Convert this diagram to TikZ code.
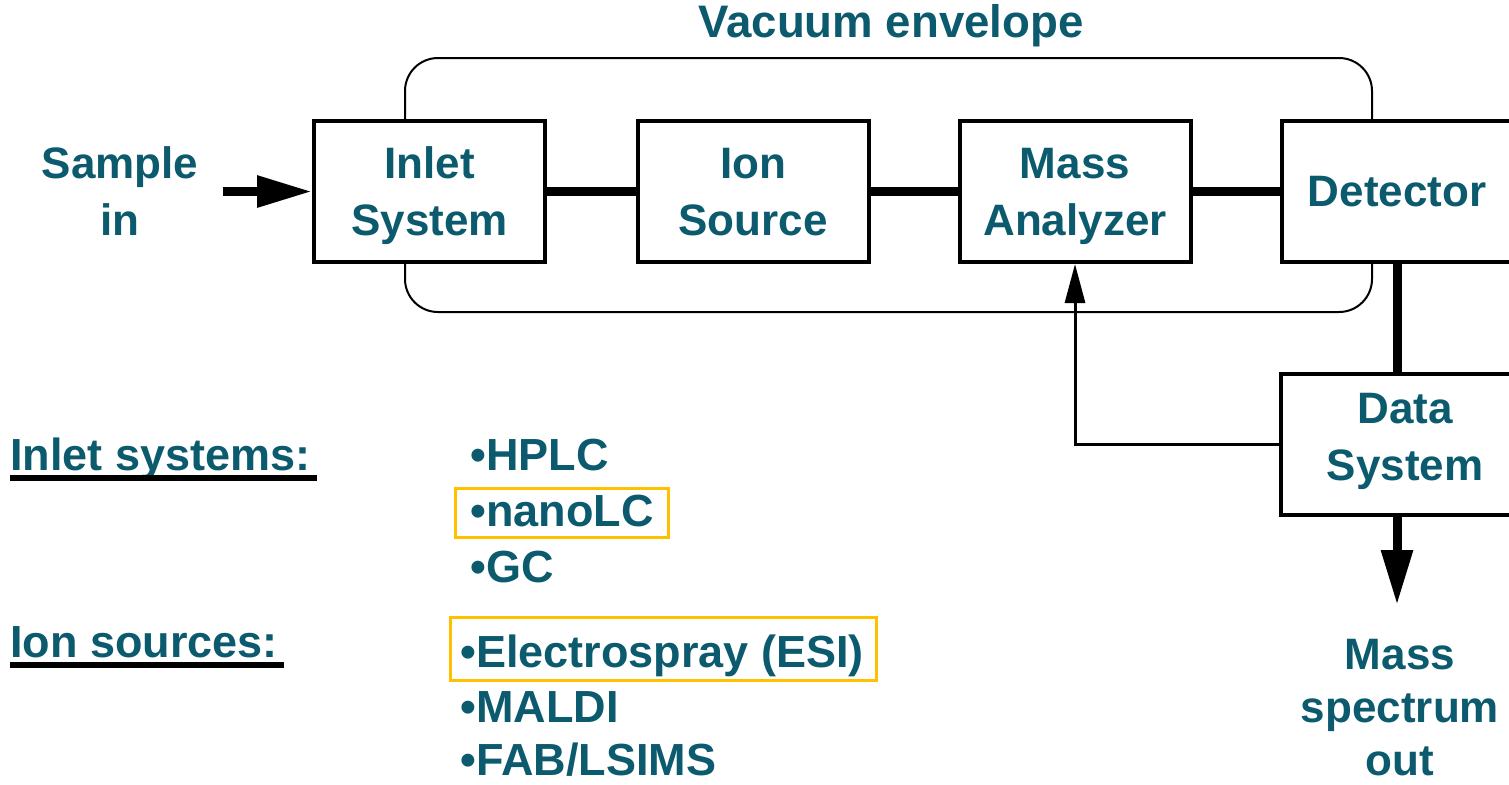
\documentclass[tikz,border=0pt]{standalone}
\usepackage{fontspec}
\setmainfont{Liberation Sans}
\usetikzlibrary{arrows.meta}
\definecolor{msTeal}{HTML}{0B5A6D}
\definecolor{msOrange}{HTML}{FFC000}

\begin{document}
\begin{tikzpicture}[x=0.5pt, y=-0.5pt,
    txt/.style={font=\fontsize{22}{28.5}\selectfont\bfseries, text=msTeal, align=center},
    stage/.style={txt, draw, line width=2pt, fill=white, minimum width=115.5pt, minimum height=70.5pt, inner sep=0pt, text depth=0pt},
    link/.style={line width=4.5pt},
    flow/.style={line width=4.5pt, -{Triangle[length=27.5pt, width=15pt]}},
    fb/.style={line width=1.5pt, -{Triangle[length=19.5pt, width=10pt]}},
    item/.style={txt, font=\fontsize{22.5}{28.5}\selectfont\bfseries, anchor=base west, inner sep=0pt},
    uline/.style={line width=3pt},
    hl/.style={draw=msOrange, line width=1.5pt}]
  \useasboundingbox (0,0) rectangle (1509,784);
  \clip (0,0) rectangle (1509,784);
  % vacuum envelope
  \draw[line width=1pt, rounded corners=16.5pt] (405,58) rectangle (1372,312);
  \node[txt, font=\fontsize{22.8}{28.5}\selectfont\bfseries] (vac) at (891,26) {Vacuum envelope};
  % stages
  \node[stage] (inlet) at (429.5,191.5) {Inlet\\System};
  \node[stage] (ion) at (753,191.5) {Ion\\Source};
  \node[stage] (ma) at (1075,191.5) {Mass\\Analyzer};
  \node[stage] (det) at (1397,191.5) {Detector};
  \node[stage, minimum width=124pt, text depth=8pt] (data) at (1405,444.5) {Data\\System};
  \node[txt, text depth=0pt] (sample) at (120,191.5) {Sample\\in};
  \node[txt, font=\fontsize{22}{26.5}\selectfont\bfseries] (spec) at (1400,708) {Mass\\spectrum\\out};
  \coordinate (outtip) at (1397,605);
  % connectors
  \draw[flow] ([xshift=9pt]sample.east) -- (inlet.west);
  \draw[link] (inlet) -- (ion);
  \draw[link] (ion) -- (ma);
  \draw[link] (ma) -- (det);
  \draw[link] (det.south) -- (det.south |- data.north);
  \draw[flow] (det.south |- data.south) -- (outtip);
  \draw[fb] (data.west) -| (ma.south);
  % lists
  \node[item] (inhead) at (10,470) {Inlet systems:};
  \draw[uline] ([yshift=-4pt]inhead.base west) -- ([xshift=3pt, yshift=-4pt]inhead.base east);
  \node[item] (hplc) at (470,470) {•HPLC};
  \node[item] (nano) at (470,526) {•nanoLC};
  \node[item] (gc) at (470,582) {•GC};
  \node[item] (ionhead) at (10,657) {Ion sources:};
  \draw[uline] ([yshift=-4pt]ionhead.base west) -- ([xshift=3pt, yshift=-4pt]ionhead.base east);
  \node[item] (esi) at (460,667) {•Electrospray (ESI)};
  \node[item] (maldi) at (460,722) {•MALDI};
  \node[item] (fab) at (460,775) {•FAB/LSIMS};
  \draw[hl] ([shift={(-15,-38)}]nano.base west) rectangle ([shift={(198,11)}]nano.base west);
  \draw[hl] ([shift={(-10,-50)}]esi.base west) rectangle ([shift={(416,13)}]esi.base west);
\end{tikzpicture}
\end{document}
